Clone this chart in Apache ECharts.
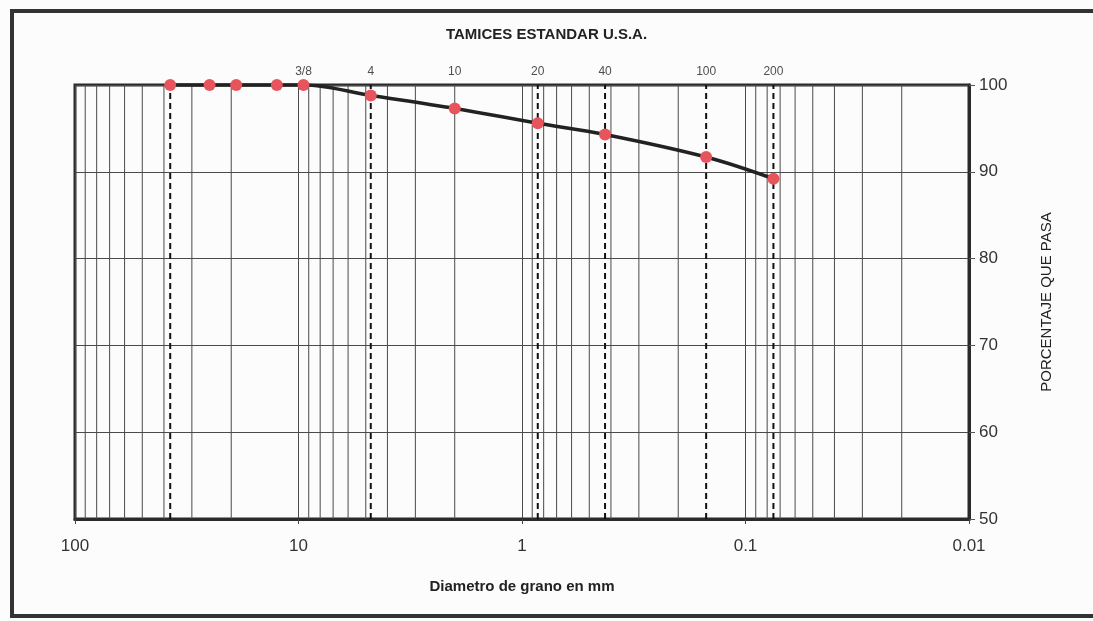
<!DOCTYPE html>
<html>
<head>
<meta charset="utf-8">
<title>Curva granulométrica</title>
<script src="https://cdn.jsdelivr.net/npm/echarts@6/dist/echarts.min.js"></script>
<style>
  html, body { margin: 0; padding: 0; background: #fcfcfc; }
  #chart { width: 1093px; height: 621px; }
</style>
</head>
<body>
<div id="chart"></div>
<script>
// Sieve openings (mm) and percentage passing
const sieveOpenings = [37.5, 25, 19, 12.5, 9.5, 4.75, 2.0, 0.85, 0.425, 0.15, 0.075];
const percentPassing = [100, 100, 100, 100, 100, 98.8, 97.3, 95.6, 94.3, 91.7, 89.2];

// US standard sieve names shown above the plot
const sieveLabelNames = ['3/8', '4', '10', '20', '40', '100', '200'];
const sieveLabelOpenings = [9.5, 4.75, 2.0, 0.85, 0.425, 0.15, 0.075];

// Sieves marked with a dashed guide line
const dashedOpenings = [37.5, 4.75, 0.85, 0.425, 0.15, 0.075];

// Axis ranges
const xMin = 0.01, xMax = 100;
const yTicks = [50, 60, 70, 80, 90, 100];

// Log-cycle subdivisions (2..9 in each decade)
const decades = [0.01, 0.1, 1, 10];
const subdivisions = [2, 3, 4, 5, 6, 7, 8, 9];
const minorGrid = [];
decades.forEach(d => subdivisions.forEach(s => minorGrid.push(+(d * s).toPrecision(3))));

const font = 'Liberation Sans, Arial, sans-serif';
const dark = '#2a2a2a';
const yLow = yTicks[0], yHigh = yTicks[yTicks.length - 1];

// one vertical segment per sieve, spanning the full percentage range
const verticalSeries = (values, lineStyle) => values.map(v => ({
  type: 'line',
  data: [[v, yLow], [v, yHigh]],
  symbol: 'none',
  silent: true,
  lineStyle: lineStyle,
  z: 1
}));

const chart = echarts.init(document.getElementById('chart'), null, { renderer: 'canvas' });

chart.setOption({
  backgroundColor: '#fcfcfc',
  animation: false,
  title: {
    text: 'TAMICES ESTANDAR U.S.A.',
    left: 'center',
    top: 22,
    textStyle: { fontFamily: font, fontSize: 15, fontWeight: 'bold', color: '#222' }
  },
  graphic: [{
    type: 'rect',
    shape: { x: 12, y: 11, width: 1100, height: 605 },
    style: { fill: null, stroke: '#333', lineWidth: 4 },
    silent: true
  }],
  grid: {
    left: 75, right: 124, top: 85, bottom: 102,
    show: true, borderColor: dark, borderWidth: 3, backgroundColor: 'transparent'
  },
  xAxis: {
    type: 'log',
    logBase: 10,
    min: xMin,
    max: xMax,
    inverse: true,
    name: 'Diametro de grano en mm',
    nameLocation: 'middle',
    nameGap: 60,
    nameTextStyle: { fontFamily: font, fontSize: 15, fontWeight: 'bold', color: '#222' },
    axisLine: { show: true, lineStyle: { color: dark, width: 3 } },
    axisTick: { show: true, length: 5, lineStyle: { color: '#444' } },
    axisLabel: {
      fontFamily: font, fontSize: 17, color: '#333', margin: 19,
      formatter: v => String(v)
    },
    splitLine: { show: true, lineStyle: { color: '#4a4a4a', width: 1 } }
  },
  yAxis: {
    type: 'value',
    position: 'right',
    min: yLow,
    max: yHigh,
    interval: 10,
    name: 'PORCENTAJE QUE PASA',
    nameLocation: 'middle',
    nameRotate: 90,
    nameGap: 70,
    nameTextStyle: { fontFamily: font, fontSize: 15, color: '#222' },
    axisLine: { show: true, lineStyle: { color: dark, width: 3 } },
    axisTick: { show: true, inside: false, length: 6, lineStyle: { color: '#555' } },
    axisLabel: { fontFamily: font, fontSize: 17, color: '#333', margin: 10 },
    splitLine: { show: true, lineStyle: { color: '#4a4a4a', width: 1 } }
  },
  series: [
    // log-cycle grid lines
    ...verticalSeries(minorGrid, { type: 'solid', color: '#4a4a4a', width: 1 }),
    // dashed sieve guide lines
    ...verticalSeries(dashedOpenings, { type: [6, 4], color: '#111', width: 2 }),
    {
      // sieve names above the plot
      type: 'scatter',
      symbolSize: 0,
      silent: true,
      clip: false,
      data: sieveLabelOpenings.map((v, i) => ({ value: [v, yHigh], name: sieveLabelNames[i] })),
      label: {
        show: true,
        position: 'top',
        distance: 7,
        formatter: p => p.name,
        fontFamily: font, fontSize: 12, color: '#222'
      }
    },
    {
      // grading curve
      type: 'line',
      clip: false,
      smooth: 0.35,
      data: sieveOpenings.map((v, i) => [v, percentPassing[i]]),
      symbol: 'circle',
      symbolSize: 12,
      itemStyle: { color: '#e8545c' },
      lineStyle: { color: '#222', width: 3.5 },
      z: 5
    }
  ]
});
</script>
</body>
</html>
